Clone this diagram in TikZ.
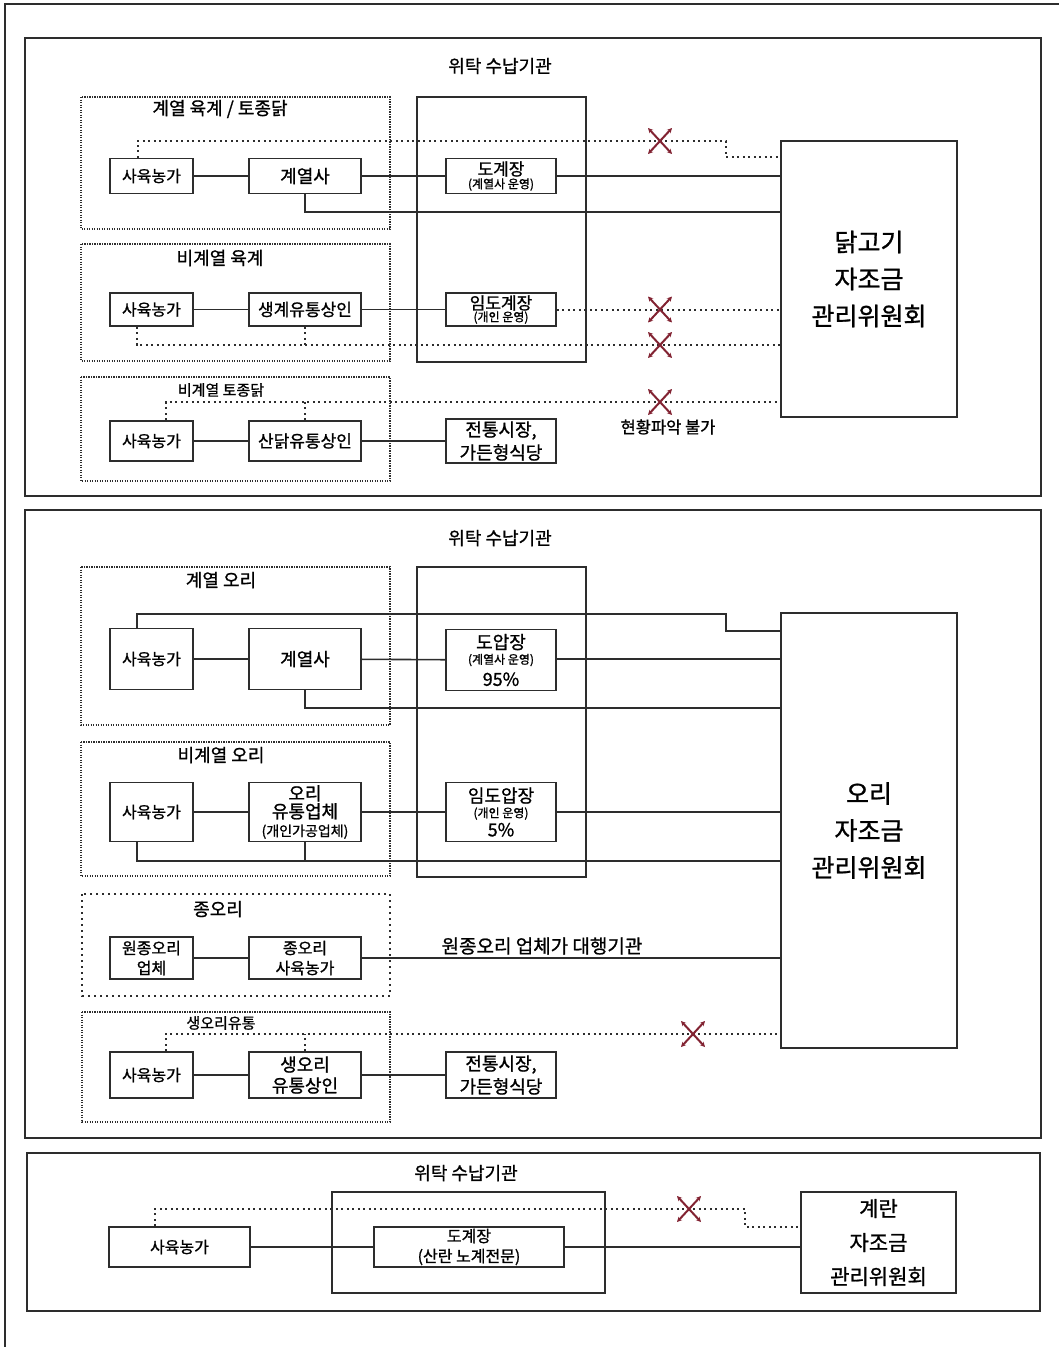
\documentclass[tikz,border=0pt]{standalone}
\usepackage{fontspec}
\setmainfont{Noto Sans CJK KR}[FakeBold=1.1]
\usepackage{tikz}
\usetikzlibrary{positioning,calc,arrows.meta}
\definecolor{linecolor}{RGB}{45,45,45}
\definecolor{crosscolor}{RGB}{130,35,50}
\newcommand{\subtxt}[1]{{\fontsize{12}{13}\selectfont #1}}

\begin{document}
\begin{tikzpicture}[x=1pt, y=-1pt,
    section/.style={draw=linecolor, line width=1.8pt},
    group/.style={draw=linecolor, line width=1.2pt, dash pattern=on 1.2pt off 1.3pt},
    loosegroup/.style={draw=linecolor, line width=2pt, dash pattern=on 2pt off 4pt},
    agency/.style={draw=linecolor, line width=1.8pt},
    box/.style={draw=linecolor, line width=1.8pt, align=center, inner sep=0pt, font=\fontsize{18}{22}\selectfont},
    farm/.style={box, minimum width=83pt, font=\fontsize{16}{20}\selectfont},
    plant/.style={box, minimum width=110pt, font=\fontsize{17}{20}\selectfont},
    committee/.style={draw=linecolor, line width=1.8pt, align=center, inner sep=0pt, minimum width=176pt, font=\fontsize{25}{37}\selectfont},
    link/.style={draw=linecolor, line width=1.6pt},
    nolink/.style={draw=linecolor, line width=2pt, dash pattern=on 2pt off 3.5pt},
    cross/.style={draw=crosscolor, line width=2pt, {Stealth[length=5pt,width=5pt]}-{Stealth[length=5pt,width=5pt]}},
    title/.style={font=\fontsize{18}{20}\selectfont},
    subtitle/.style={font=\fontsize{15}{17}\selectfont},
    note/.style={font=\fontsize{16.5}{19}\selectfont}
]
    \useasboundingbox (0,0) rectangle (1059,1347);
    \draw[linecolor, line width=1.5pt] (5,1347) -- (5,4) -- (1059,4);

    % 닭고기
    \draw[section] (25,38) rectangle (1041,496);
    \node[title] (agency1lbl) at (500,66) {위탁 수납기관};
    \draw[group] (81,97) rectangle (390,229);
    \draw[group] (81,244) rectangle (390,361);
    \draw[group] (81,377) rectangle (390,481);
    \draw[agency] (417,97) rectangle (586,362);
    \node[title] (grp1) at (220,109) {계열 육계 / 토종닭};
    \node[title] (grp2) at (220,258) {비계열 육계};
    \node[subtitle] (grp3) at (221,390) {비계열 토종닭};

    \node[farm, minimum height=35pt] (farm1) at (151.5,176) {사육농가};
    \node[box, minimum width=112pt, minimum height=35pt] (affil1) at (305,176) {계열사};
    \node[plant, minimum height=35pt] (slaughter1) at (501,176) {도계장\\[-7pt]\subtxt{(계열사 운영)}};
    \node[committee, minimum height=276pt] (comm1) at (869,279) {닭고기\\자조금\\관리위원회};

    \node[farm, minimum height=33pt] (farm2) at (151.5,309.5) {사육농가};
    \node[box, minimum width=112pt, minimum height=33pt, font=\fontsize{17}{20}\selectfont] (trader2) at (305,309.5) {생계유통상인};
    \node[plant, minimum height=33pt] (slaughter2) at (501,309.5) {임도계장\\[-8pt]\subtxt{(개인 운영)}};

    \node[farm, minimum height=40pt] (farm3) at (151.5,441) {사육농가};
    \node[box, minimum width=112pt, minimum height=40pt, font=\fontsize{17}{20}\selectfont] (trader3) at (305,441) {산닭유통상인};
    \node[box, minimum width=110pt, minimum height=44pt] (market3) at (501,441) {전통시장,\\[1pt]가든형식당};

    \coordinate (step1) at (726,141);
    \coordinate (cross1) at (660,141);
    \coordinate (cross2) at (660,309.5);
    \coordinate (cross3) at (660,345);
    \coordinate (cross4) at (660,402);

    \draw[link] (farm1) -- (affil1);
    \draw[link] (affil1) -- (slaughter1);
    \draw[link] (slaughter1.east) -- (slaughter1.east -| comm1.west);
    \draw[link] (affil1.south) |- (comm1.west |- 0,212);
    \draw[nolink] ([xshift=-14pt]farm1.north) |- (step1) |- ([yshift=-16pt]step1 -| comm1.west);

    \draw[link] (farm2) -- (trader2);
    \draw[link] (trader2) -- (slaughter2);
    \draw[nolink] (slaughter2.east) -- (slaughter2.east -| comm1.west);
    \draw[nolink] ([xshift=-15pt]farm2.south) |- (cross3) -- (cross3 -| comm1.west);
    \draw[nolink] (trader2.south) -- (trader2.south |- cross3);

    \draw[link] (farm3) -- (trader3);
    \draw[link] (trader3) -- (market3);
    \draw[nolink] ([xshift=14.5pt]farm3.north) |- (cross4) -- (cross4 -| comm1.west);
    \draw[nolink] (trader3.north) -- (trader3.north |- cross4);
    \node[note] (unknown) at (668,427) {현황파악 불가};

    \foreach \c in {cross1,cross2,cross3,cross4} {
        \draw[cross] ([shift={(-12,-13)}]\c) -- ([shift={(12,13)}]\c);
        \draw[cross] ([shift={(12,-13)}]\c) -- ([shift={(-12,13)}]\c);
    }

    % 오리
    \draw[section] (25,510) rectangle (1041,1138);
    \node[title] (agency2lbl) at (500,538) {위탁 수납기관};
    \draw[group] (81,567) rectangle (390,725);
    \draw[group] (81,742) rectangle (390,876);
    \draw[loosegroup] (82,894) rectangle (390,996);
    \draw[group] (82,1012) rectangle (390,1122);
    \draw[agency] (417,567) rectangle (586,877);
    \node[title] (grpA) at (221,580) {계열 오리};
    \node[title] (grpB) at (221,755) {비계열 오리};
    \node[title] (grpC) at (218,909) {종오리};
    \node[subtitle] (grpD) at (221,1023) {생오리유통};

    \node[farm, minimum height=61pt] (farmA) at (151.5,659) {사육농가};
    \node[box, minimum width=112pt, minimum height=61pt] (affilA) at (305,659) {계열사};
    \node[box, minimum width=110pt, minimum height=61pt] (slaughterA) at (501,660) {도압장\\[-7pt]\subtxt{(계열사 운영)}\\95\%};
    \node[committee, minimum height=435pt] (commA) at (869,830.5) {오리\\자조금\\관리위원회};

    \node[farm, minimum height=59pt] (farmB) at (151.5,812) {사육농가};
    \node[box, minimum width=112pt, minimum height=59pt] (distB) at (305,812) {오리\\[-4pt]유통업체\\[-4pt]{\fontsize{14}{15}\selectfont(개인가공업체)}};
    \node[box, minimum width=110pt, minimum height=59pt] (slaughterB) at (501,812) {임도압장\\[-7pt]\subtxt{(개인 운영)}\\[-3pt]5\%};

    \node[farm, minimum height=42pt] (breederC) at (151.5,958) {원종오리\\업체};
    \node[farm, minimum width=112pt, minimum height=42pt] (farmC) at (305,958) {종오리\\사육농가};

    \node[farm, minimum height=46pt] (farmD) at (151.5,1075) {사육농가};
    \node[box, minimum width=112pt, minimum height=46pt] (traderD) at (305,1075) {생오리\\[-1pt]유통상인};
    \node[box, minimum width=110pt, minimum height=46pt] (marketD) at (501,1075) {전통시장,\\[1pt]가든형식당};

    \coordinate (stepA) at (726,614);
    \coordinate (crossD) at (693,1034);

    \draw[link] (farmA) -- (affilA);
    \draw[link] (affilA) -- (slaughterA);
    \draw[link] (slaughterA.east |- affilA) -- (affilA -| commA.west);
    \draw[link] ([xshift=-14.5pt]farmA.north) |- (stepA) |- ([yshift=-17pt]stepA -| commA.west);
    \draw[link] (affilA.south) |- (commA.west |- 0,708);

    \draw[link] (farmB) -- (distB);
    \draw[link] (distB) -- (slaughterB);
    \draw[link] (slaughterB.east) -- (slaughterB.east -| commA.west);
    \draw[link] ([xshift=-14.5pt]farmB.south) |- (commA.west |- 0,861);
    \draw[link] (distB.south) -- (distB.south |- 0,861);

    \draw[link] (breederC) -- (farmC);
    \draw[link] (farmC.east) -- (farmC.east -| commA.west);
    \node[font=\fontsize{19}{21}\selectfont] (proxy) at (542,946) {원종오리 업체가 대행기관};

    \draw[link] (farmD) -- (traderD);
    \draw[link] (traderD) -- (marketD);
    \draw[nolink] ([xshift=14pt]farmD.north) |- (crossD) -- (crossD -| commA.west);
    \draw[nolink] (traderD.north) -- (traderD.north |- crossD);
    \draw[cross] ([shift={(-12,-13)}]crossD) -- ([shift={(12,13)}]crossD);
    \draw[cross] ([shift={(12,-13)}]crossD) -- ([shift={(-12,13)}]crossD);

    % 계란
    \draw[section] (27,1153) rectangle (1040,1311);
    \node[title] (agency3lbl) at (466,1173) {위탁 수납기관};
    \draw[agency] (332,1192) rectangle (605,1293);

    \node[farm, minimum width=141pt, minimum height=40pt] (farmE) at (179.5,1247) {사육농가};
    \node[farm, minimum width=190pt, minimum height=40pt, font=\fontsize{16}{20}\selectfont] (slaughterE) at (469,1247) {도계장\\(산란 노계전문)};
    \node[committee, minimum width=155pt, minimum height=101pt, font=\fontsize{21}{34}\selectfont] (commE) at (878.5,1242.5) {계란\\자조금\\관리위원회};

    \coordinate (stepE) at (745,1209);
    \coordinate (crossE) at (689,1209);

    \draw[link] (farmE) -- (slaughterE);
    \draw[link] (slaughterE.east) -- (slaughterE.east -| commE.west);
    \draw[nolink] ([xshift=-24.5pt]farmE.north) |- (stepE) |- ([yshift=-18pt]stepE -| commE.west);
    \draw[cross] ([shift={(-12,-13)}]crossE) -- ([shift={(12,13)}]crossE);
    \draw[cross] ([shift={(12,-13)}]crossE) -- ([shift={(-12,13)}]crossE);
\end{tikzpicture}
\end{document}
